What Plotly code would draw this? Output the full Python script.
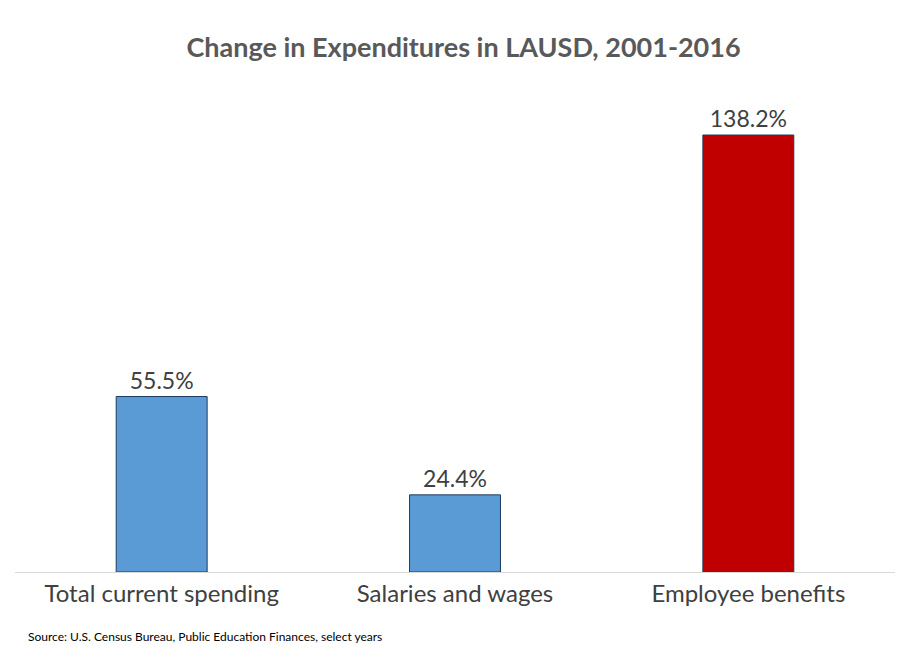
import plotly.graph_objects as go

categories = ["Total current spending", "Salaries and wages", "Employee benefits"]
values = [55.5, 24.4, 138.2]
labels = ["55.5%", "24.4%", "138.2%"]
colors = ["#5B9BD5", "#5B9BD5", "#C00000"]

fig = go.Figure(go.Bar(
    x=categories, y=values, text=labels, textposition="outside",
    marker=dict(color=colors, line=dict(color="#1F3A5F", width=1)),
    textfont=dict(size=23, color="#404040"), cliponaxis=False, width=0.31,
))
fig.update_layout(
    width=911, height=662, plot_bgcolor="white", paper_bgcolor="white",
    font=dict(family="Lato, Open Sans, sans-serif"),
    title=dict(text="<b>Change in Expenditures in LAUSD, 2001-2016</b>", x=0.5, y=0.955,
               xanchor="center", font=dict(size=27, color="#595959")),
    margin=dict(l=7, r=24, t=60, b=98),
    showlegend=False,
    yaxis=dict(visible=False, range=[0, 159.4]),
    xaxis=dict(showline=True, linecolor="#D9D9D9", linewidth=1, ticks="",
               tickfont=dict(size=24, color="#404040")),
    annotations=[dict(text="Source: U.S. Census Bureau, Public Education Finances, select years",
                      xref="paper", yref="paper", x=0.012, y=-0.11, xanchor="left", yanchor="top",
                      showarrow=False, font=dict(size=12, color="#000000"))],
)
fig.write_html("out.html")
